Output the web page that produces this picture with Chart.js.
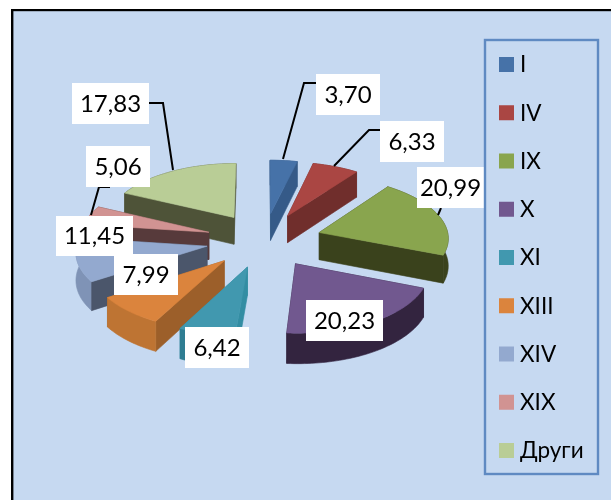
<!DOCTYPE html>
<html><head><meta charset="utf-8">
<style>html,body{margin:0;padding:0;background:#fff}#wrap{position:absolute;left:0;top:0;width:611px;height:500px}</style>
<script src="https://cdn.jsdelivr.net/npm/chart.js@4"></script>
</head><body><div id="wrap"><canvas id="c" width="611" height="500"></canvas></div>
<script>
const categories = ['I','IV','IX','X','XI','XIII','XIV','XIX','Други'];
const shares = [3.70,6.33,20.99,20.23,6.42,7.99,11.45,5.06,17.83];
const shareLabels = ['3,70','6,33','20,99','20,23','6,42','7,99','11,45','5,06','17,83'];
const topColors = ['#4672A8','#AA4643','#89A54E','#71588F','#4198AF','#DB843D','#93A9CF','#D19392','#B9CD96'];
const wallColors = ['#355A88','#702E2C','#3A421C','#2E2039','#338DA3','#9C5F2A','#4B566B','#573A3B','#4E5338'];
const rimColors = ['#355A88','#702E2C','#3A421C','#33243F','#2F7D92','#BE7433','#7F93B6','#8A5F5E','#4E5338'];

const view = {cx:264, cy:240, radius:129.5, explode:58, squash:0.47, persp:0.00055, depth:27.5};
const legendBox = {left:485, top:40, right:598, bottom:474, firstY:64.5, stepY:48.25, swatchX:499, swatch:15, textX:520};
const labelBoxes = [
  {x:316,y:74,w:64,h:41,line:[[316,83],[304,83],[283,159]]},
  {x:380,y:121,w:64,h:41,line:[[380,130],[369,130],[334,166]]},
  {x:417,y:167,w:67,h:41,line:[[441,208],[438,215]]},
  {x:306,y:300,w:77,h:41},
  {x:185,y:327,w:64,h:41},
  {x:114,y:254,w:64,h:41},
  {x:56,y:216,w:77,h:40},
  {x:86,y:146,w:64,h:41,line:[[110,187],[99,187],[91,215]]},
  {x:72,y:83,w:77,h:41,line:[[149,103],[163,103],[173,170]]}
];
const FONT = 'Lato, "Open Sans", sans-serif';

function project(u, v, z) {
  const s = 1 / (1 - v * view.persp);
  return [view.cx + u * s, view.cy + v * view.squash * s + z * s];
}
function fillPoly(ctx, pts, color) {
  ctx.beginPath();
  pts.forEach((p, i) => i ? ctx.lineTo(p[0], p[1]) : ctx.moveTo(p[0], p[1]));
  ctx.closePath();
  ctx.fillStyle = color;
  ctx.strokeStyle = color;
  ctx.lineWidth = 0.6;
  ctx.fill();
  ctx.stroke();
}

const pie3d = {
  id: 'pie3d',
  beforeDraw(chart) {
    const ctx = chart.ctx;
    ctx.save();
    ctx.fillStyle = '#C6D9F1';
    ctx.fillRect(12, 10, 599, 490);
    ctx.fillStyle = '#000';
    ctx.fillRect(11, 9, 600, 2.2);
    ctx.fillRect(11, 9, 2.4, 491);
    ctx.restore();
  },
  beforeDatasetsDraw(chart) {
    const ctx = chart.ctx;
    const arcs = chart.getDatasetMeta(0).data;
    const order = arcs.map((el, i) => {
      const p = el.getProps(['startAngle','endAngle','outerRadius']);
      return {i, a0: p.startAngle, a1: p.endAngle, r: view.radius, mid: (p.startAngle + p.endAngle) / 2};
    }).sort((a, b) => Math.sin(a.mid) - Math.sin(b.mid));
    order.forEach(s => {
      const ou = Math.cos(s.mid) * view.explode, ov = Math.sin(s.mid) * view.explode;
      const n = Math.max(8, Math.round((s.a1 - s.a0) * 40));
      const plane = [];
      for (let k = 0; k <= n; k++) {
        const a = s.a0 + (s.a1 - s.a0) * k / n;
        plane.push([ou + Math.cos(a) * s.r, ov + Math.sin(a) * s.r]);
      }
      const up = p => project(p[0], p[1], 0);
      const dn = p => project(p[0], p[1], view.depth);
      const tip = [ou, ov];
      const walls = [
        {m: (tip[1] + plane[0][1]) / 2, c: wallColors[s.i], pts: [up(tip), up(plane[0]), dn(plane[0]), dn(tip)]},
        {m: (tip[1] + plane[n][1]) / 2, c: wallColors[s.i], pts: [up(tip), up(plane[n]), dn(plane[n]), dn(tip)]},
        {m: plane.reduce((t, p) => t + p[1], 0) / plane.length, c: rimColors[s.i],
         pts: plane.map(up).concat(plane.slice().reverse().map(dn))}
      ].sort((a, b) => a.m - b.m);
      walls.forEach(w => fillPoly(ctx, w.pts, w.c));
      fillPoly(ctx, [up(tip)].concat(plane.map(up)), topColors[s.i]);
    });
    return false;
  },
  afterDraw(chart) {
    const ctx = chart.ctx;
    ctx.save();
    ctx.strokeStyle = '#000';
    ctx.lineWidth = 2;
    labelBoxes.forEach(b => {
      if (!b.line) return;
      ctx.beginPath();
      b.line.forEach((p, i) => i ? ctx.lineTo(p[0], p[1]) : ctx.moveTo(p[0], p[1]));
      ctx.stroke();
    });
    ctx.font = '24px ' + FONT;
    ctx.textAlign = 'center';
    ctx.textBaseline = 'middle';
    labelBoxes.forEach((b, i) => {
      ctx.fillStyle = '#fff';
      ctx.fillRect(b.x, b.y, b.w, b.h);
      ctx.fillStyle = '#000';
      ctx.fillText(shareLabels[i], b.x + b.w / 2, b.y + b.h / 2 + 0.5);
    });
    const L = legendBox;
    ctx.strokeStyle = '#5F8AC2';
    ctx.lineWidth = 2.4;
    ctx.strokeRect(L.left, L.top, L.right - L.left, L.bottom - L.top);
    ctx.font = '22.5px ' + FONT;
    ctx.textAlign = 'left';
    categories.forEach((name, i) => {
      const y = L.firstY + i * L.stepY;
      ctx.fillStyle = topColors[i];
      ctx.fillRect(L.swatchX, y - L.swatch / 2, L.swatch, L.swatch);
      ctx.fillStyle = '#000';
      ctx.fillText(name, L.textX, y + 0.5);
    });
    ctx.restore();
  }
};

new Chart(document.getElementById('c'), {
  type: 'pie',
  data: {labels: categories, datasets: [{data: shares, backgroundColor: topColors, borderWidth: 0}]},
  options: {
    responsive: false,
    animation: false,
    plugins: {legend: {display: false}, tooltip: {enabled: false}},
    devicePixelRatio: 1
  },
  plugins: [pie3d]
});
</script></body></html>
